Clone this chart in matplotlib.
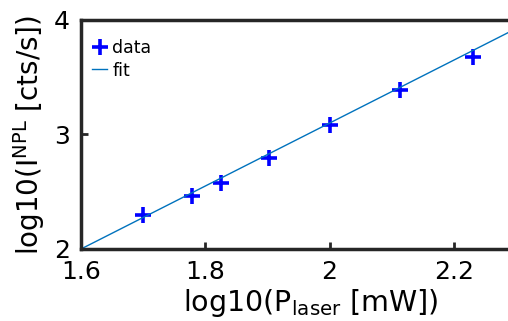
import numpy as np
import matplotlib.pyplot as plt

# data
log_p = [1.699, 1.778, 1.826, 1.903, 2.000, 2.114, 2.230]
log_i = [2.297, 2.463, 2.574, 2.795, 3.083, 3.389, 3.677]

# fit line y = a*x + b
fit_a = 2.75
fit_b = -2.40
fit_x = np.array([1.6, 2.34])

fig = plt.figure(figsize=(5.08, 3.21), dpi=100)
# axes run a bit past the right edge of the figure (cropped like the original)
ax = fig.add_axes([0.1594, 0.2243, 0.9055, 0.7134])

ax.plot(log_p, log_i, '+', color='#0000ff', ms=11, mew=2.6, label='data')
ax.plot(fit_x, fit_a * fit_x + fit_b, '-', color='#0072BD', lw=1, label='fit')

ax.set_xlim(1.6, 2.34)
ax.set_ylim(2, 4)
ax.set_xticks([1.6, 1.8, 2.0, 2.2])
ax.set_xticklabels(['1.6', '1.8', '2', '2.2'])
ax.set_yticks([2, 3, 4])
ax.set_yticklabels(['2', '3', '4'])

for s in ['left', 'bottom', 'top']:
    ax.spines[s].set_linewidth(2.5)
    ax.spines[s].set_color('#262626')
ax.spines['right'].set_visible(False)
ax.tick_params(direction='in', length=5, width=2, color='#262626',
               labelsize=18, pad=8, top=False, right=False)

ax.set_xlabel(r'log10(P$_{\mathregular{laser}}$ [mW])', fontsize=20.5, labelpad=2)
ax.set_ylabel(r'log10(I$^{\mathregular{NPL}}$ [cts/s])', fontsize=20, labelpad=5)

ax.legend(loc='upper left', bbox_to_anchor=(0.024, 0.916), frameon=False,
          fontsize=12.5, handlelength=0.87, handletextpad=0.3,
          borderaxespad=0, borderpad=0, labelspacing=0.25)

fig.savefig('out.png', dpi=100)
